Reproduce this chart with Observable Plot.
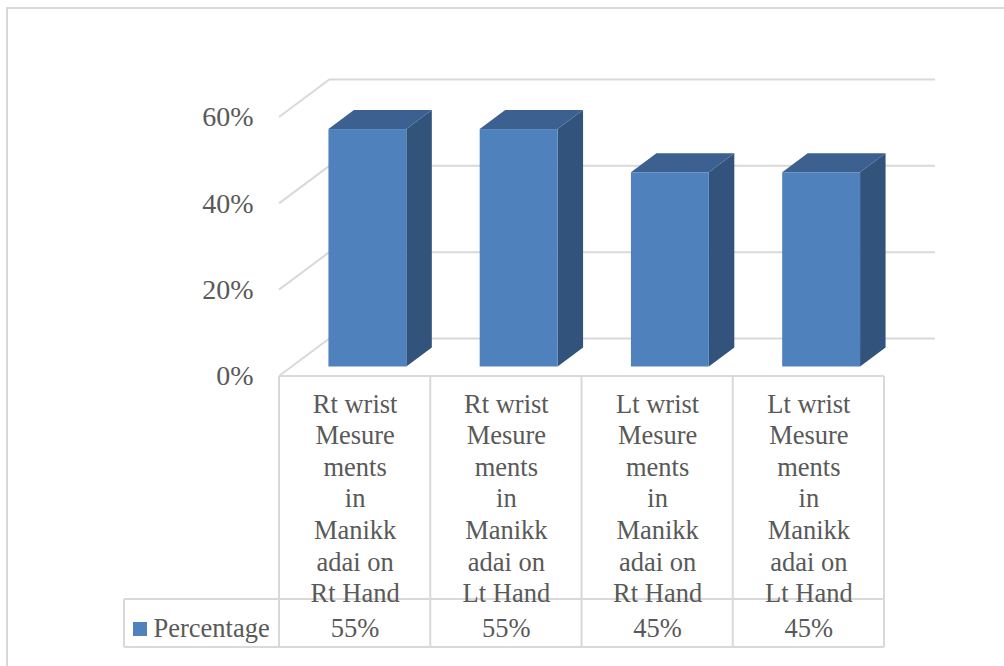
<!DOCTYPE html>
<html>
<head>
<meta charset="utf-8">
<script src="https://cdn.jsdelivr.net/npm/d3@7"></script>
<script src="https://cdn.jsdelivr.net/npm/@observablehq/plot@0.6"></script>
<style>
  html, body { margin: 0; padding: 0; background: #fff; overflow: hidden; }
  #wrap { position: relative; width: 1004px; height: 666px; }
  #border { position: absolute; left: 6px; top: 7px; width: 1100px; height: 800px; border: 2px solid #d9d9d9; box-sizing: border-box; }
  #chart { position: absolute; left: 0; top: 0; }
  #chart svg { display: block; }
  #chart svg text { font-family: "Liberation Serif", "Times New Roman", serif !important; }
</style>
</head>
<body>
<div id="wrap"><div id="border"></div><div id="chart"></div></div>
<script>
const categories = [
  "Rt wrist\nMesure\nments\nin\nManikk\nadai on\nRt Hand",
  "Rt wrist\nMesure\nments\nin\nManikk\nadai on\nLt Hand",
  "Lt wrist\nMesure\nments\nin\nManikk\nadai on\nRt Hand",
  "Lt wrist\nMesure\nments\nin\nManikk\nadai on\nLt Hand"
];
const values = [0.55, 0.55, 0.45, 0.45];
const yTicks = [0, 0.2, 0.4, 0.6];
const seriesName = "Percentage";

const data = categories.map((label, i) => ({i, label, value: values[i]}));
const pct = d3.format(".0%");

// 3D look (pixels)
const DEPTH_X = 51, DEPTH_Y = -38;
const GRID = "#d9d9d9", TEXT = "#595959";
const FRONT = "#4f81bd", SIDE = "#32547c", TOP = "#3c6190";
const LABEL_ROW = 223, VALUE_ROW = 48, LEGEND_LEFT = 124;
const FONT = "Liberation Serif";

function diagonals(index, scales) {
  const g = d3.create("svg:g");
  const sx = scales.x, sy = scales.y;
  for (const t of yTicks) {
    g.append("line")
      .attr("x1", sx(0)).attr("y1", sy(t))
      .attr("x2", sx(0) + DEPTH_X).attr("y2", sy(t) + DEPTH_Y)
      .attr("stroke", GRID).attr("stroke-width", 2);
  }
  return g.node();
}

function bars3d(index, scales) {
  const g = d3.create("svg:g");
  const sx = scales.x, sy = scales.y;
  const d0 = 0.25, d1 = 0.75; // depth range of bars
  for (const d of data) {
    const bw = sx(d.i + 1) - sx(d.i);
    const w = bw * 0.515;
    const xl = sx(d.i) + (bw - w) / 2 + DEPTH_X * d0;
    const xr = xl + w;
    const yb = sy(0) + DEPTH_Y * d0;
    const yt = sy(d.value) + DEPTH_Y * d0;
    const ox = DEPTH_X * (d1 - d0), oy = DEPTH_Y * (d1 - d0);
    g.append("polygon")
      .attr("points", [[xr, yb], [xr + ox, yb + oy], [xr + ox, yt + oy], [xr, yt]].join(" "))
      .attr("fill", SIDE);
    g.append("polygon")
      .attr("points", [[xl, yt], [xl + ox, yt + oy], [xr + ox, yt + oy], [xr, yt]].join(" "))
      .attr("fill", TOP);
    g.append("rect")
      .attr("x", xl).attr("y", yt).attr("width", w).attr("height", yb - yt)
      .attr("fill", FRONT);
  }
  return g.node();
}

function table(index, scales) {
  const g = d3.create("svg:g").attr("stroke", GRID).attr("stroke-width", 2);
  const sx = scales.x, sy = scales.y;
  const top = sy(0), mid = top + LABEL_ROW, bot = mid + VALUE_ROW;
  const xr = sx(categories.length);
  const line = (x1, y1, x2, y2) => g.append("line").attr("x1", x1).attr("y1", y1).attr("x2", x2).attr("y2", y2);
  line(sx(0), top, xr, top);
  line(LEGEND_LEFT, mid, xr, mid);
  line(LEGEND_LEFT, bot, xr, bot);
  for (let i = 0; i <= categories.length; ++i) line(sx(i), top, sx(i), bot);
  line(LEGEND_LEFT, mid, LEGEND_LEFT, bot);
  g.append("rect")
    .attr("x", LEGEND_LEFT + 9).attr("y", mid + 23).attr("width", 14).attr("height", 14)
    .attr("fill", FRONT).attr("stroke", "none");
  return g.node();
}

const chart = Plot.plot({
  width: 1004,
  height: 666,
  marginLeft: 279,
  marginRight: 120,
  marginTop: 117,
  marginBottom: 290,
  style: {fontFamily: FONT, color: TEXT, background: "transparent", overflow: "visible"},
  x: {type: "linear", domain: [0, categories.length], axis: null},
  y: {domain: [0, 0.6], axis: null},
  marks: [
    Plot.ruleY(yTicks, {stroke: GRID, strokeWidth: 2, dx: DEPTH_X, dy: DEPTH_Y}),
    diagonals,
    bars3d,
    table,
    Plot.axisY(yTicks, {tickFormat: pct, tickSize: 0, tickPadding: 26, fontSize: 28, fontFamily: FONT, fill: TEXT, label: null}),
    Plot.text(data, {x: d => d.i + 0.5, y: 0, text: "label", lineAnchor: "top", dy: 14, lineHeight: 1.19, fontSize: 26.5, fontFamily: FONT, fill: TEXT}),
    Plot.text(data, {x: d => d.i + 0.5, y: 0, text: d => pct(d.value), dy: 252, fontSize: 26.5, fontFamily: FONT, fill: TEXT}),
    Plot.text([seriesName], {x: 0, y: 0, text: d => d, textAnchor: "start", dx: -(279 - 153), dy: 252, fontSize: 26.5, fontFamily: FONT, fill: TEXT})
  ]
});
document.getElementById("chart").append(chart);
</script>
</body>
</html>
